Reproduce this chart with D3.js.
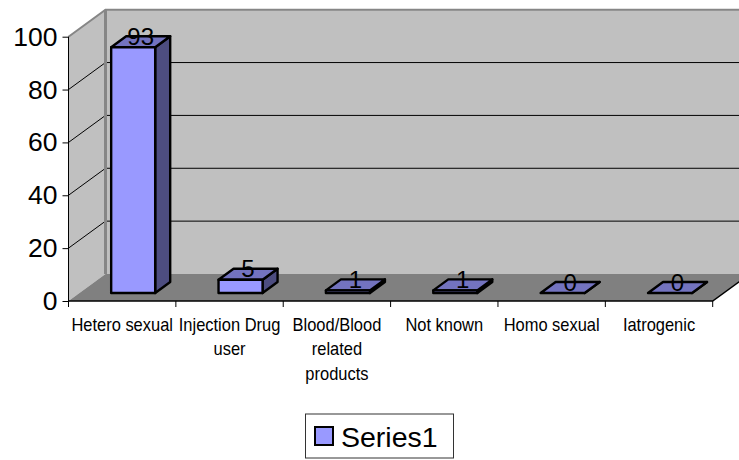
<!DOCTYPE html>
<html>
<head>
<meta charset="utf-8">
<script src="https://cdn.jsdelivr.net/npm/d3@7"></script>
<style>
  html, body { margin: 0; padding: 0; background: #fff; overflow: hidden; }
  svg { display: block; }
  text { font-family: "Liberation Sans", Arial, sans-serif; fill: #000; }
  .cat { font-size: 18.5px; }
</style>
</head>
<body>
<svg id="chart" width="739" height="460"></svg>
<script>
// Chart data
const categories = ["Hetero sexual", "Injection Drug user", "Blood/Blood related products", "Not known", "Homo sexual", "Iatrogenic"];
const categoryLines = [["Hetero sexual"], ["Injection Drug", "user"], ["Blood/Blood", "related", "products"], ["Not known"], ["Homo sexual"], ["Iatrogenic"]];
const values = [93, 5, 1, 1, 0, 0];
const yTicks = [0, 20, 40, 60, 80, 100];
const seriesName = "Series1";

// 3D projection offsets
const wallDx = 37, wallDy = -27;
const barInsetX = 11, barInsetY = -8;
const barDepthX = 15, barDepthY = -11;

const colors = {
  wall: "#C0C0C0", floor: "#808080", edge: "#868686",
  front: "#9999FF", top: "#7373BF", side: "#4D4D80"
};

const svg = d3.select("#chart");
const left = 68.5, right = 712.7, base = 301, top100 = 36.7;

const x = d3.scaleBand().domain(categories).range([left, right]).paddingInner(0.59).paddingOuter(0.295);
const xEdges = d3.scaleLinear().domain([0, categories.length]).range([left, right]);
const y = d3.scaleLinear().domain([0, 100]).range([base, top100]);

const poly = pts => d3.line()(pts) + "Z";

// Side wall, back wall and floor
svg.append("path").attr("d", poly([[left, base], [left, y(100)], [left + wallDx, y(100) + wallDy], [left + wallDx, base + wallDy]]))
  .attr("fill", colors.wall);
svg.append("path").attr("d", poly([[left + wallDx, base + wallDy], [left + wallDx, y(100) + wallDy], [right + wallDx, y(100) + wallDy], [right + wallDx, base + wallDy]]))
  .attr("fill", colors.wall);
svg.append("path").attr("d", poly([[left, base], [left + wallDx, base + wallDy], [right + wallDx, base + wallDy], [right, base]]))
  .attr("fill", colors.floor);

// Gridlines across both walls
svg.append("g").selectAll("path").data(yTicks.filter(t => t > 0 && t < 100)).join("path")
  .attr("d", t => d3.line()([[left, y(t)], [left + wallDx, y(t) + wallDy], [right + wallDx, y(t) + wallDy]]))
  .attr("fill", "none").attr("stroke", "#000").attr("stroke-width", 1);

// Wall outlines
svg.append("path")
  .attr("d", d3.line()([[left, y(100)], [left + wallDx, y(100) + wallDy], [right + wallDx, y(100) + wallDy]]))
  .attr("fill", "none").attr("stroke", colors.edge).attr("stroke-width", 2);
svg.append("path")
  .attr("d", d3.line()([[left + wallDx, y(100) + wallDy], [left + wallDx, base + wallDy]]))
  .attr("fill", "none").attr("stroke", colors.edge).attr("stroke-width", 3);

// Value axis
const yAxis = svg.append("g").attr("transform", `translate(${left},0)`)
  .call(d3.axisLeft(y).tickValues(yTicks).tickSize(6).tickPadding(5).tickFormat(d3.format("d")));
yAxis.selectAll("text").style("font-family", '"Liberation Sans", Arial, sans-serif').style("font-size", "26.5px").attr("fill", "#000");
yAxis.selectAll("line").attr("stroke", "#000");
yAxis.select(".domain").attr("stroke", "#000").attr("d", `M0,${y(100)}V${base}`);

// Category axis with the receding right edge of the floor
svg.append("path").attr("d", d3.line()([[left, base], [right, base], [right + wallDx, base + wallDy]]))
  .attr("fill", "none").attr("stroke", "#000").attr("stroke-width", 1.5);
svg.append("g").selectAll("line").data(d3.range(categories.length + 1)).join("line")
  .attr("x1", d => xEdges(d)).attr("x2", d => xEdges(d))
  .attr("y1", base).attr("y2", base + 6)
  .attr("stroke", "#000");

// Category labels, set in a horizontally condensed face
const catLabels = svg.append("g").selectAll("text").data(categories).join("text")
  .attr("class", "cat").attr("text-anchor", "middle")
  .attr("transform", d => `translate(${x(d) + x.bandwidth() / 2},0) scale(0.89,1)`);
catLabels.selectAll("tspan").data((d, i) => categoryLines[i]).join("tspan")
  .attr("x", 0)
  .attr("y", (line, i) => 331 + i * 24.5)
  .text(line => line);

// Bars: side and top faces behind the front face
const bars = svg.append("g").selectAll("g").data(categories.map((c, i) => ({ c, v: values[i] }))).join("g")
  .attr("stroke", "#000").attr("stroke-width", 2.4).attr("stroke-linejoin", "round");
const bx0 = d => x(d.c) + barInsetX, bx1 = d => bx0(d) + x.bandwidth();
const by0 = () => base + barInsetY;
const byT = d => y(d.v) + barInsetY;

bars.append("path").attr("fill", colors.side).attr("d", d => poly([
  [bx1(d), by0()], [bx1(d), byT(d)], [bx1(d) + barDepthX, byT(d) + barDepthY], [bx1(d) + barDepthX, by0() + barDepthY]]));
bars.append("path").attr("fill", colors.top).attr("d", d => poly([
  [bx0(d), byT(d)], [bx0(d) + barDepthX, byT(d) + barDepthY], [bx1(d) + barDepthX, byT(d) + barDepthY], [bx1(d), byT(d)]]));
bars.append("rect").attr("fill", colors.front)
  .attr("x", bx0).attr("width", x.bandwidth())
  .attr("y", byT).attr("height", d => by0() - byT(d));

// Value labels above each bar
svg.append("g").selectAll("text").data(categories.map((c, i) => ({ c, v: values[i] }))).join("text")
  .attr("text-anchor", "middle").style("font-size", "24px")
  .attr("x", d => bx0(d) + x.bandwidth() / 2 + barDepthX / 2)
  .attr("y", d => byT(d) - 2.5)
  .text(d => d.v);

// Legend
const legend = svg.append("g");
legend.append("rect").attr("x", 305.5).attr("y", 414).attr("width", 148).attr("height", 44)
  .attr("fill", "#fff").attr("stroke", "#333").attr("stroke-width", 1);
legend.append("rect").attr("x", 315).attr("y", 427).attr("width", 18).attr("height", 18)
  .attr("fill", colors.front).attr("stroke", "#000").attr("stroke-width", 2);
legend.append("text").attr("x", 341).attr("y", 446.5).style("font-size", "28.5px").text(seriesName);
</script>
</body>
</html>
